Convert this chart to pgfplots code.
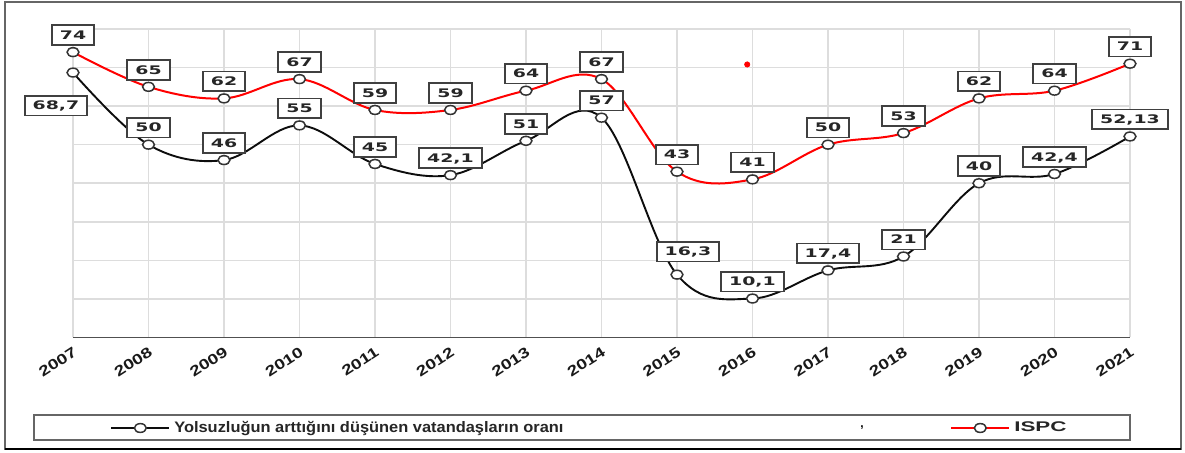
\documentclass[border=0pt]{standalone}
\usepackage{pgfplots}
\pgfplotsset{compat=1.18}
\usepackage{pgfplotstable}
\usepackage{fontspec}
\setmainfont{Liberation Sans}
\newfontfamily\lblfont{DejaVu Sans}[FakeStretch=1.6]
\newfontfamily\tickfont{Liberation Sans}[FakeStretch=1.3]
\newfontfamily\legfont{Liberation Sans}[FakeStretch=1.08]
\newfontfamily\ispcfont{Liberation Sans}[FakeStretch=1.6]

\definecolor{gridgray}{RGB}{221,221,221}
\definecolor{axgray}{RGB}{80,80,80}
\definecolor{isred}{RGB}{255,0,0}

\pgfplotstableread{
x y lbl dx dy
0 68.7 68,7 -8.5 -16.5
1 50 50 0 8.5
2 46 46 0 8.5
3 55 55 0 8.5
4 45 45 0 8.5
5 42.1 42,1 0 8.5
6 51 51 0 8.5
7 57 57 0 8.5
8 16.3 16,3 5.5 11.5
9 10.1 10,1 0 8.5
10 17.4 17,4 0 8.5
11 21 21 0 8.5
12 40 40 0 8.5
13 42.4 42,4 0 8.5
14 52.13 52,13 0 8.5
}\blacktab

\pgfplotstableread{
x y lbl dx dy
0 74 74 0 8.5
1 65 65 0 8.5
2 62 62 0 8.5
3 67 67 0 8.5
4 59 59 0 8.5
5 59 59 0 8.5
6 64 64 0 8.5
7 67 67 0 8.5
8 43 43 0 8.5
9 41 41 0 8.5
10 50 50 0 8.5
11 53 53 0 8.5
12 62 62 0 8.5
13 64 64 0 8.5
14 71 71 0 8.5
}\redtab

\pgfplotsset{
  lblstyle/.style={
    nodes near coords,
    point meta=explicit symbolic,
    visualization depends on={\thisrow{dx}\as\dx},
    visualization depends on={\thisrow{dy}\as\dy},
    every node near coord/.append style={anchor=center, xshift=\dx pt, yshift=\dy pt,
       draw=black!75, line width=0.9pt, fill=white, text=black!85,
       inner xsep=4pt, inner ysep=2.8pt, text height=4.3pt, text depth=0pt,
       font=\lblfont\bfseries\fontsize{5.9}{6}\selectfont},
  }
}

\begin{document}
\begin{tikzpicture}
\useasboundingbox (-36.5pt,-57.75pt) rectangle (556pt,168.75pt);
\fill[white] (-36.5pt,-57.75pt) rectangle (556pt,168.75pt);
\begin{axis}[
  scale only axis,
  width=528.5pt, height=154.25pt,
  xmin=0, xmax=14, ymin=0, ymax=80,
  xtick={0,...,14},
  xticklabels={2007,2008,2009,2010,2011,2012,2013,2014,2015,2016,2017,2018,2019,2020,2021},
  ytick={0,10,...,80}, yticklabels={},
  grid=major,
  major grid style={gridgray, line width=0.75pt},
  axis x line*=bottom, axis y line*=left,
  y axis line style={draw=none},
  x axis line style={axgray, line width=0.8pt},
  major tick length=0pt,
  xticklabel style={font=\tickfont\bfseries\fontsize{7.2}{7.5}\selectfont, text=black!90, yshift=-3pt, rotate=33, anchor=north east, inner sep=0.8pt},
  clip=false,
  legend columns=2,
  legend style={draw=none, fill=none, at={(0.035,-0.2934)}, anchor=west, inner sep=0pt,
     font=\legfont\bfseries\fontsize{7.6}{8}\selectfont, text=black!85},
  legend image code/.code={\draw[mark repeat=2, mark phase=2, #1] plot coordinates {(0pt,0pt) (14.5pt,0pt) (29pt,0pt)};},
]
\addplot[black!95, line width=0.95pt, smooth, tension=0.6, mark=*, mark size=2.2pt,
  mark options={fill=white, draw=black!80, line width=0.75pt, solid, xscale=1.35}, lblstyle]
  table[x=x, y=y, meta=lbl]{\blacktab};
\addlegendentry{\makebox[386pt][l]{Yolsuzluğun arttığını düşünen vatandaşların oranı}}
\addplot[isred, line width=1pt, smooth, tension=0.6, mark=*, mark size=2.2pt,
  mark options={fill=white, draw=black!80, line width=0.75pt, solid, xscale=1.35}, lblstyle]
  table[x=x, y=y, meta=lbl]{\redtab};
\addlegendentry{{\ispcfont\bfseries\fontsize{7}{8}\selectfont ISPC}}
\addplot[only marks, mark=*, mark size=1.3pt, color=isred, forget plot]
  coordinates {(8.93,70.8)};
\end{axis}
\draw[black!60, line width=1pt] (-34pt,-55.75pt) rectangle (554pt,167.75pt);
\draw[black, line width=1.4pt] (-34pt,-55.75pt) -- (554pt,-55.75pt);
\draw[black!60, line width=1pt] (-19.5pt,-51.25pt) rectangle (528.5pt,-38.75pt);
\node[font=\bfseries\fontsize{6}{6}\selectfont] at (394.5pt,-45.25pt) {,};
\end{tikzpicture}
\end{document}
